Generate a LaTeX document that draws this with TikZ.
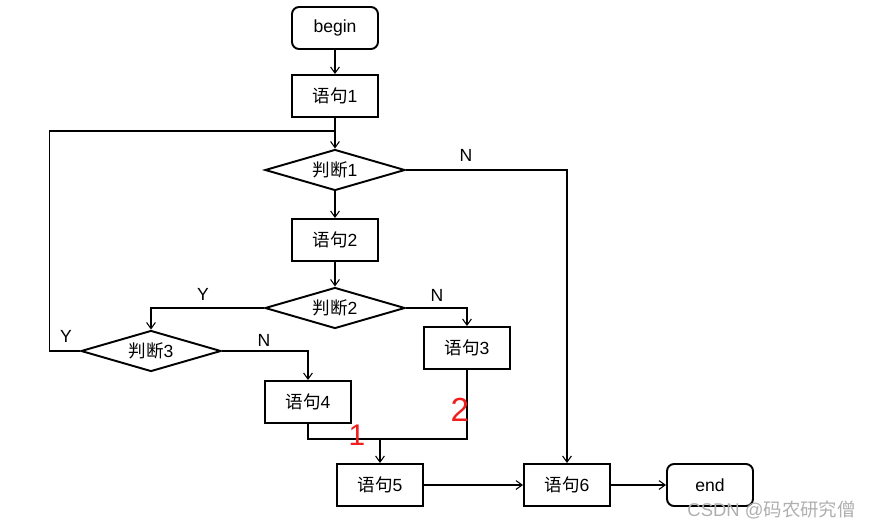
\documentclass[tikz,border=0pt]{standalone}
\usepackage{fontspec}
\setmainfont{Liberation Sans}
\newfontfamily\cjk{Noto Sans CJK SC}
\usepackage{tikz}
\usetikzlibrary{shapes,arrows}
\usetikzlibrary{shapes.geometric}
\usetikzlibrary{positioning}
\usetikzlibrary{calc}
\usetikzlibrary{arrows.meta}
\definecolor{markred}{RGB}{240,30,30}
\definecolor{wmgray}{RGB}{175,175,175}
\tikzset{>={Straight Barb[length=3.5pt,width=5pt]}}
\tikzstyle{stmt} = [draw, rectangle, line width=1.1pt, minimum width=1.72cm,
minimum height=0.84cm, font=\fontsize{10}{12}\selectfont]
\tikzstyle{term} = [stmt, rounded corners=4pt]
\tikzstyle{judge} = [draw, diamond, aspect=3.5, line width=1.1pt, inner sep=0pt,
minimum width=2.8cm, minimum height=0.82cm, font=\fontsize{10}{12}\selectfont]
\tikzstyle{line} = [draw, ->, line width=0.6pt]
\tikzstyle{lbl} = [font=\fontsize{10}{12}\selectfont]

\begin{document}
\begin{tikzpicture}[x=0.02cm, y=-0.02cm]
	\useasboundingbox (0,0) rectangle (873,528);
	\node [term] (begin) at (335,28) {begin};
	\node [stmt] (S1) at (335,96) {{\cjk 语句}1};
	\node [judge] (J1) at (335,170) {{\cjk 判断}1};
	\node [stmt] (S2) at (335,240) {{\cjk 语句}2};
	\node [judge] (J2) at (335,308) {{\cjk 判断}2};
	\node [judge] (J3) at (151,351) {{\cjk 判断}3};
	\node [stmt] (S3) at (467,348) {{\cjk 语句}3};
	\node [stmt] (S4) at (308,402) {{\cjk 语句}4};
	\node [stmt] (S5) at (380,485) {{\cjk 语句}5};
	\node [stmt] (S6) at (567,485) {{\cjk 语句}6};
	\node [term] (end) at (710,485) {end};
	%% junctions
	\coordinate (loop) at (335,131);
	\coordinate (merge) at (380,439);
	%% Arrows
	\path [line] (begin) to (S1);
	\path [line] (S1) to (J1);
	\path [line] (J1) to (S2);
	\path [line] (S2) to (J2);
	\path [line] (J1.east) -| (S6.north);
	\path [line] (J2.west) -| (J3.north);
	\path [line] (J2.east) -| (S3.north);
	\path [line] (J3.east) -| (S4.north);
	\draw [line width=0.6pt] (J3.west) -- ++(-31,0) |- (loop);
	\draw [line width=0.6pt] (S4.south) |- (merge);
	\draw [line width=0.6pt] (S3.south) |- (merge);
	\path [line] (merge) to (S5);
	\path [line] (S5) to (S6);
	\path [line] (S6) to (end);
	%% Y / N
	\node [lbl] (yes2) at (203,294) {Y};
	\node [lbl] (no2) at (437,295) {N};
	\node [lbl] (no1) at (466,155) {N};
	\node [lbl] (yes3) at (66,336) {Y};
	\node [lbl] (no3) at (264,340) {N};
	%% red marks
	\node [text=markred, font=\fontsize{17}{17}\selectfont] (mk1) at (357,435) {1};
	\node [text=markred, font=\fontsize{19}{19}\selectfont] (mk2) at (460,410) {2};
	%% watermark
	\node [text=wmgray, font=\fontsize{10.5}{12}\selectfont, anchor=east] (wm) at (862,510)
	{CSDN @{\cjk 码农研究僧}};
\end{tikzpicture}
\end{document}
